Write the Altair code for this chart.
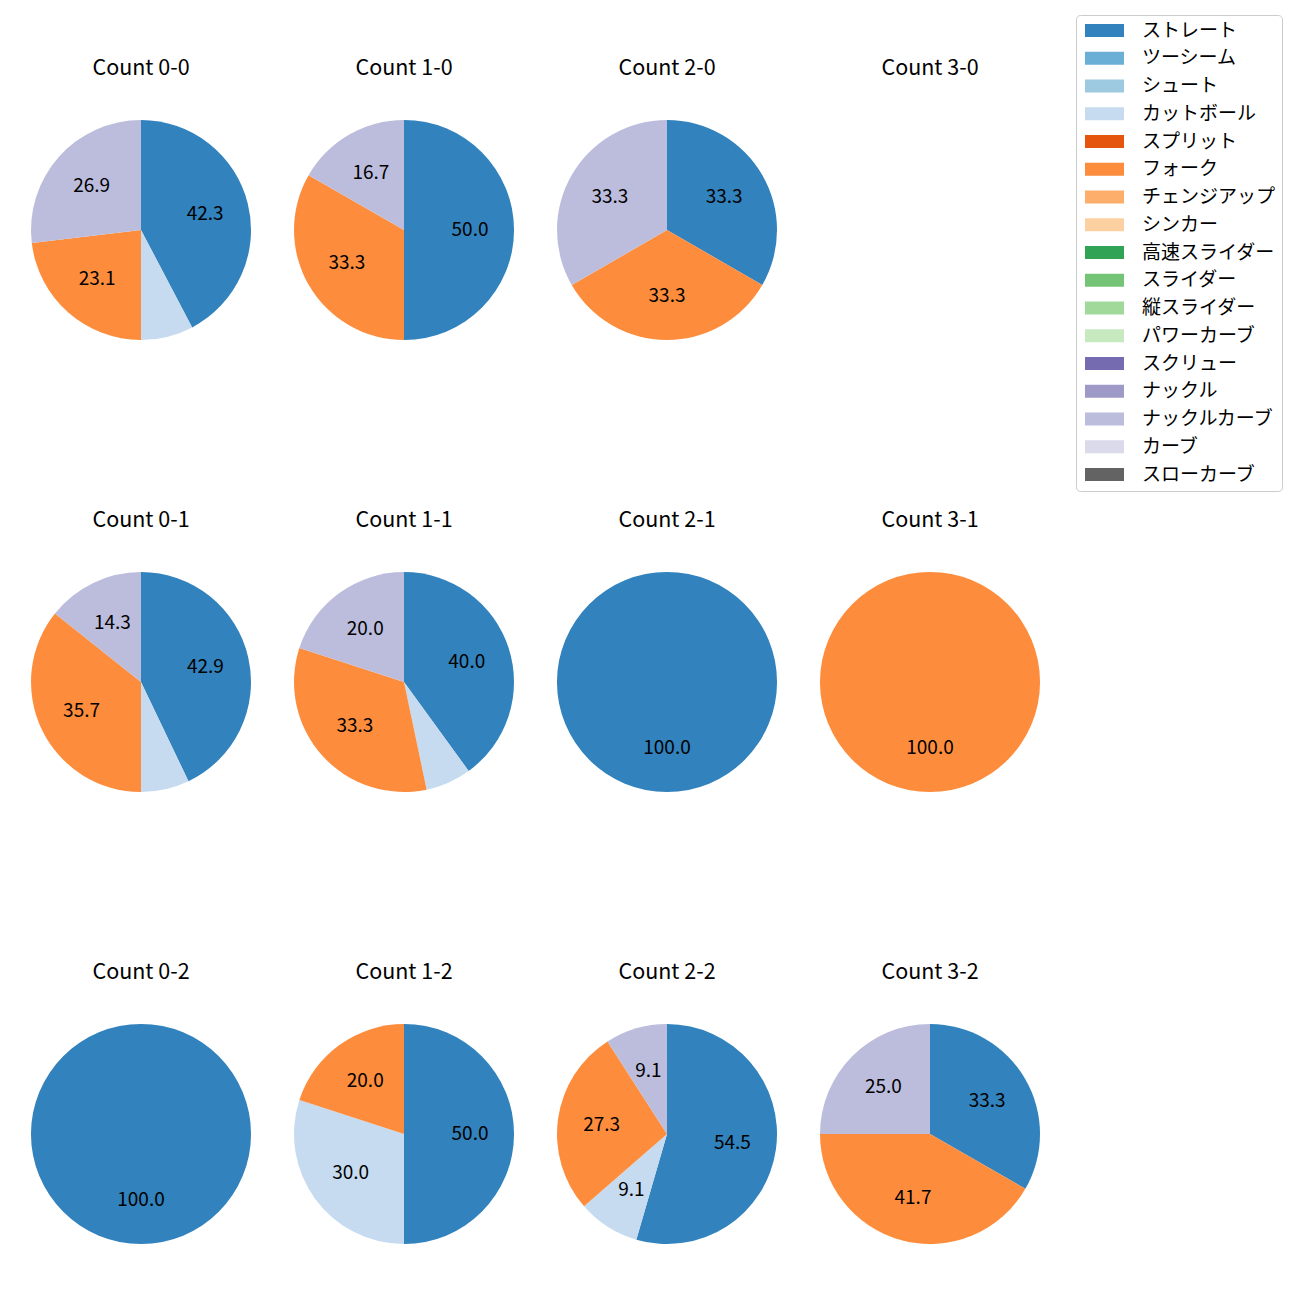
import altair as alt
import pandas as pd

# ---- data (percentages) ----
pitch_types = ["ストレート", "ツーシーム", "シュート", "カットボール", "スプリット", "フォーク",
               "チェンジアップ", "シンカー", "高速スライダー", "スライダー", "縦スライダー",
               "パワーカーブ", "スクリュー", "ナックル", "ナックルカーブ", "カーブ", "スローカーブ"]
pitch_colors = ["#3182bd", "#6baed6", "#9ecae1", "#c6dbef", "#e6550d", "#fd8d3c",
                "#fdae6b", "#fdd0a2", "#31a354", "#74c476", "#a1d99b", "#c7e9c0",
                "#756bb1", "#9e9ac8", "#bcbddc", "#dadaeb", "#636363"]

counts = ["0-0", "1-0", "2-0", "3-0",
          "0-1", "1-1", "2-1", "3-1",
          "0-2", "1-2", "2-2", "3-2"]
straight      = [42.3, 50.0, 33.3, 0, 42.9, 40.0, 100.0, 0, 100.0, 50.0, 54.5, 33.3]
cutter        = [7.7, 0, 0, 0, 7.1, 6.7, 0, 0, 0, 30.0, 9.1, 0]
forkball      = [23.1, 33.3, 33.3, 0, 35.7, 33.3, 0, 100.0, 0, 20.0, 27.3, 41.7]
knuckle_curve = [26.9, 16.7, 33.3, 0, 14.3, 20.0, 0, 0, 0, 0, 9.1, 25.0]

series = {"ストレート": straight, "カットボール": cutter,
          "フォーク": forkball, "ナックルカーブ": knuckle_curve}

rows = []
for name, vals in series.items():
    for c, v in zip(counts, vals):
        if v > 0:
            rows.append({"count": c, "pitch": name, "pct": v,
                         "idx": pitch_types.index(name)})
df = pd.DataFrame(rows)

FONT = "Noto Sans CJK JP"
CELL_W = 263
ROW_H = [452, 452, 360]
CX, CY = 133, 222
R = 110

color_scale = alt.Scale(domain=pitch_types, range=pitch_colors)
legend = alt.Legend(
    title=None, orient="none", legendX=1068, legendY=7,
    symbolType="M-1,-1H5V1H-1Z", symbolSize=169, symbolStrokeWidth=0,
    labelFont=FONT, labelFontSize=19, labelColor="#000000", labelOffset=41,
    rowPadding=7.75, padding=6, strokeColor="#cccccc", cornerRadius=4,
    fillColor="#ffffff", labelLimit=300,
)


def cell(c):
    base = alt.Chart(df).transform_filter(alt.datum["count"] == c)
    arc = base.mark_arc(outerRadius=R).encode(
        theta=alt.Theta("pct:Q", stack="normalize"),
        color=alt.Color("pitch:N", scale=color_scale, legend=legend),
        order=alt.Order("idx:Q", sort="ascending"),
        x=alt.value(CX), y=alt.value(CY),
    )
    lbl = base.transform_calculate(
        lab="datum.pct >= 8 ? format(datum.pct, '.1f') : ''"
    ).mark_text(radius=R * 0.6, font=FONT, fontSize=19, color="#000000",
                baseline="middle", align="center").encode(
        theta=alt.Theta("pct:Q", stack="normalize"),
        order=alt.Order("idx:Q", sort="ascending"),
        text="lab:N",
        x=alt.value(CX), y=alt.value(CY),
    )
    ttl = alt.Chart(pd.DataFrame({"t": ["Count " + c]})).mark_text(
        font=FONT, fontSize=21.5, color="#000000", baseline="middle", align="center"
    ).encode(text="t:N", x=alt.value(CX), y=alt.value(61))
    return alt.layer(arc, lbl, ttl)


row_charts = []
for r in range(3):
    cells = [cell(counts[r * 4 + k]).properties(width=CELL_W, height=ROW_H[r])
             for k in range(4)]
    row_charts.append(alt.hconcat(*cells, spacing=0))

chart = alt.vconcat(*row_charts, spacing=0).properties(padding=0).configure_view(
    stroke=None
).resolve_scale(color="shared", theta="independent")

chart.save("out.html", embed_options={"renderer": "svg", "actions": False})
